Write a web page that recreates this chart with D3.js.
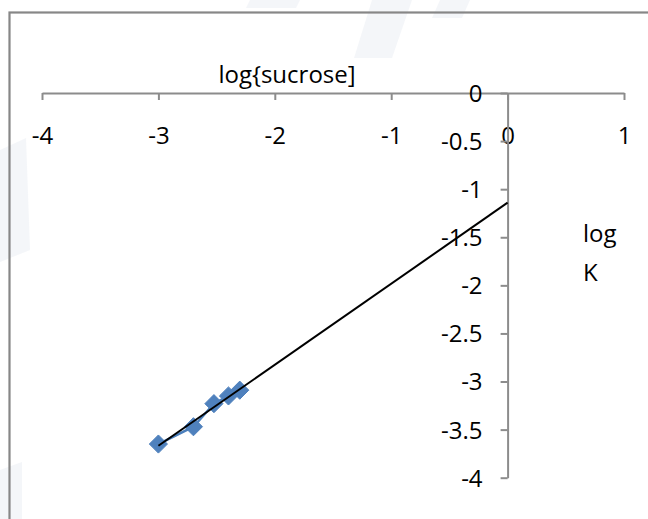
<!DOCTYPE html>
<html>
<head>
<meta charset="utf-8">
<script src="https://cdn.jsdelivr.net/npm/d3@7"></script>
<style>
  html, body { margin: 0; padding: 0; background: #fff; }
  svg { display: block; }
  text { font-family: "Open Sans", "Noto Sans", sans-serif; fill: #000; }
</style>
</head>
<body>
<svg id="chart" width="648" height="519"></svg>
<script>
// log of sucrose concentration (x) against log of rate constant K (y)
const logSucrose = [-3.0, -2.699, -2.523, -2.398, -2.301];
const logK = [-3.65, -3.47, -3.23, -3.15, -3.09];
const xTicks = [-4, -3, -2, -1, 0, 1];
const yTicks = [0, -0.5, -1, -1.5, -2, -2.5, -3, -3.5, -4];
const xTitle = "log{sucrose]";
const yTitleLines = ["log", "K"];

const svg = d3.select("#chart");

// faint diagonal watermark bands in the background
const bands = [
  [[372, 0], [412, 0], [392, 58], [354, 58]],
  [[440, 0], [470, 0], [462, 18], [432, 18]],
  [[250, 0], [300, 0], [296, 8], [246, 8]],
  [[0, 150], [26, 138], [30, 250], [0, 262]],
  [[0, 470], [22, 462], [22, 519], [0, 519]]
];
svg.append("g").selectAll("polygon").data(bands).join("polygon")
  .attr("points", d => d.map(p => p.join(",")).join(" "))
  .attr("fill", "#e6ebf2").attr("opacity", 0.45);

// chart area frame
svg.append("rect")
  .attr("x", 9.5).attr("y", 12.5).attr("width", 700).attr("height", 600)
  .attr("fill", "none").attr("stroke", "#878787").attr("stroke-width", 2.2);

const x = d3.scaleLinear().domain([-4, 1]).range([42, 624]);
const y = d3.scaleLinear().domain([0, -4]).range([93, 477.7]);
const axisColor = "#8c8c8c";

// horizontal value axis crossing at y = 0
const xAxis = svg.append("g").attr("transform", `translate(0,${y(0)})`)
  .call(d3.axisBottom(x).tickValues(xTicks).tickSize(7).tickSizeOuter(0).tickFormat(d3.format("d")));
xAxis.select(".domain").attr("stroke", axisColor).attr("stroke-width", 2);
xAxis.selectAll(".tick line").attr("stroke", axisColor).attr("stroke-width", 2);
xAxis.selectAll(".tick text")
  .attr("y", 43).attr("dy", "0.35em")
  .style("font-size", "24px").style("font-family", "'Open Sans', sans-serif")
  .text(d => d < 0 ? "-" + Math.abs(d) : d);

// vertical value axis crossing at x = 0
const yAxis = svg.append("g").attr("transform", `translate(${x(0)},0)`)
  .call(d3.axisLeft(y).tickValues(yTicks).tickSize(7).tickSizeOuter(0).tickFormat(d => d));
yAxis.select(".domain").attr("stroke", axisColor).attr("stroke-width", 2);
yAxis.selectAll(".tick line").attr("stroke", axisColor).attr("stroke-width", 2);
yAxis.selectAll(".tick text")
  .attr("x", -25).attr("dy", "0.35em")
  .style("font-size", "24px").style("font-family", "'Open Sans', sans-serif")
  .text(d => d < 0 ? "-" + Math.abs(d) : d);
// the vertical axis line sits above the horizontal axis labels
yAxis.raise();

// axis titles
svg.append("text")
  .attr("x", 287).attr("y", 75).attr("dy", "0.35em")
  .attr("text-anchor", "middle").style("font-size", "24px")
  .text(xTitle);
svg.append("text")
  .attr("x", 583).attr("y", 234).attr("dy", "0.35em")
  .style("font-size", "24px")
  .selectAll("tspan").data(yTitleLines).join("tspan")
  .attr("x", 583).attr("dy", (d, i) => i === 0 ? "0.35em" : "1.6em")
  .text(d => d);

// data series: connecting line and diamond markers
const pts = logSucrose.map((v, i) => [v, logK[i]]);
const seriesColor = "#4f81bd";
svg.append("path")
  .datum(pts)
  .attr("d", d3.line().x(d => x(d[0])).y(d => y(d[1])))
  .attr("fill", "none").attr("stroke", "#4a7ebb").attr("stroke-width", 2.5);
svg.append("g").selectAll("path").data(pts).join("path")
  .attr("transform", d => `translate(${x(d[0])},${y(d[1])})`)
  .attr("d", d3.symbol().type(d3.symbolDiamond2).size(210))
  .attr("fill", seriesColor).attr("stroke", seriesColor).attr("stroke-width", 1);

// least-squares linear trendline, extended forward to x = 0
const mx = d3.mean(logSucrose), my = d3.mean(logK);
const sxy = d3.sum(pts, d => (d[0] - mx) * (d[1] - my));
const sxx = d3.sum(pts, d => (d[0] - mx) ** 2);
const slope = sxy / sxx, intercept = my - slope * mx;
const trendX = [d3.min(logSucrose), 0];
svg.append("path")
  .datum(trendX.map(v => [v, slope * v + intercept]))
  .attr("d", d3.line().x(d => x(d[0])).y(d => y(d[1])))
  .attr("fill", "none").attr("stroke", "#000").attr("stroke-width", 2);
</script>
</body>
</html>
